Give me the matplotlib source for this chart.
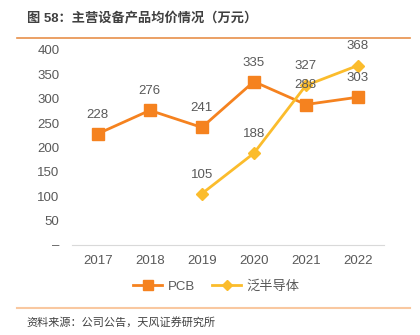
import matplotlib
matplotlib.use("Agg")
import matplotlib.pyplot as plt
from matplotlib.lines import Line2D

plt.rcParams['font.family'] = ['Liberation Sans', 'Noto Sans CJK SC']

years = ['2017', '2018', '2019', '2020', '2021', '2022']
pcb = [228, 276, 241, 335, 288, 303]
semi = [None, None, 105, 188, 327, 368]

pcb_color = '#F5821F'
semi_color = '#FBBC2C'
text_color = '#595959'

fig = plt.figure(figsize=(4.2, 3.35), dpi=100)
ax = fig.add_axes([0.171, 0.269, 0.743, 0.582])

x = list(range(len(years)))
ax.plot(x, pcb, color=pcb_color, lw=2, marker='s', ms=8, zorder=3)
sx = [i for i, v in zip(x, semi) if v is not None]
sy = [v for v in semi if v is not None]
ax.plot(sx, sy, color=semi_color, lw=2, marker='D', ms=6, zorder=4)

# value labels sit above the lines
for i, v in zip(x, pcb):
    ax.annotate(str(v), (i, v), xytext=(0, 13.7), textcoords='offset points',
                ha='center', va='center', fontsize=9.5, color=text_color, zorder=6)
for i, v in zip(sx, sy):
    ax.annotate(str(v), (i, v), xytext=(0, 13.7), textcoords='offset points',
                ha='center', va='center', fontsize=9.5, color=text_color, zorder=6)

ax.set_xlim(-0.5, len(years) - 0.5)
ax.set_ylim(0, 400)
ax.set_xticks(x)
ax.set_xticklabels(years)
ax.set_yticks(range(0, 401, 50))
ax.set_yticklabels(['–'] + [str(v) for v in range(50, 401, 50)])
ax.tick_params(axis='both', length=0, labelsize=9.5, labelcolor=text_color)
ax.tick_params(axis='x', pad=7)
ax.tick_params(axis='y', pad=9)
for s in ['top', 'right', 'left']:
    ax.spines[s].set_visible(False)
ax.spines['bottom'].set_color('#D9D9D9')

handles = [Line2D([], [], color=pcb_color, lw=2, marker='s', ms=7),
           Line2D([], [], color=semi_color, lw=2, marker='D', ms=5)]
fig.legend(handles, ['PCB', '泛半导体'], loc='center', bbox_to_anchor=(0.515, 0.145),
           ncol=2, frameon=False, fontsize=9.5, labelcolor=text_color,
           handlelength=2.2, columnspacing=1.3, handletextpad=0.4)

fig.text(0.065, 0.945, '图 58：主营设备产品均价情况（万元）', fontsize=9.5, fontweight='bold',
         color='#404040', va='center')
fig.add_artist(Line2D([0.04, 0.975], [0.888, 0.888], color='#E8904A', lw=1.2))
fig.add_artist(Line2D([0.04, 0.975], [0.080, 0.080], color='#F9C8A0', lw=1.5))
fig.text(0.062, 0.038, '资料来源：公司公告，天风证券研究所', fontsize=8, color='#404040', va='center')

fig.savefig('out.png', dpi=100)
